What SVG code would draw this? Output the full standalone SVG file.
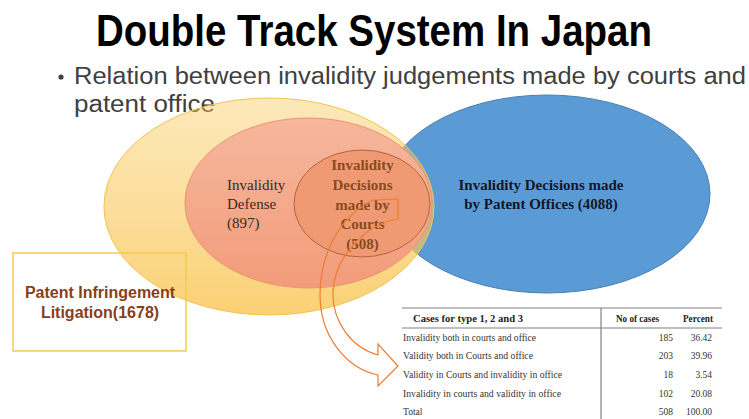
<svg xmlns="http://www.w3.org/2000/svg" width="749" height="419" viewBox="0 0 749 419">
  <defs>
    <linearGradient id="gradLitigation" x1="0" y1="0" x2="0" y2="1">
      <stop offset="0" stop-color="#F9C85A" stop-opacity="0.42"/>
      <stop offset="0.55" stop-color="#F9C85A" stop-opacity="0.62"/>
      <stop offset="1" stop-color="#F9C85A" stop-opacity="0.85"/>
    </linearGradient>
    <linearGradient id="gradDefense" x1="0" y1="0" x2="0" y2="1">
      <stop offset="0" stop-color="#F6B79D"/>
      <stop offset="1" stop-color="#F29C7A"/>
    </linearGradient>
    <style>
      .title { font-family: "Liberation Sans", Arial, sans-serif; font-weight: bold; font-size: 44px; fill: #000; }
      .sub { font-family: "Liberation Sans", Arial, sans-serif; font-size: 23px; fill: #404040; }
      .serif { font-family: "Liberation Serif", "Times New Roman", serif; font-size: 15px; }
      .serif-b { font-family: "Liberation Serif", "Times New Roman", serif; font-size: 15px; font-weight: bold; }
      .box-label { font-family: "Liberation Sans", Arial, sans-serif; font-size: 16px; font-weight: bold; fill: #86401A; }
      .tbl { font-family: "Liberation Serif", "Times New Roman", serif; font-size: 9.5px; fill: #333; }
      .tbl-b { font-family: "Liberation Serif", "Times New Roman", serif; font-size: 9.5px; font-weight: bold; fill: #222; }
      .rule { stroke: #808080; stroke-width: 1.2; fill: none; }
    </style>
  </defs>

  <rect width="749" height="419" fill="#FFFFFF"/>

  <!-- heading -->
  <g id="heading">
    <text class="title" x="96" y="46" textLength="556" lengthAdjust="spacingAndGlyphs">Double Track System In Japan</text>
    <circle cx="61" cy="77" r="2.6" fill="#404040"/>
    <text class="sub" x="74" y="84" textLength="672" lengthAdjust="spacingAndGlyphs">Relation between invalidity judgements made by courts and</text>
    <text class="sub" x="74" y="112" textLength="141" lengthAdjust="spacingAndGlyphs">patent office</text>
  </g>

  <!-- patent office decisions -->
  <g id="office-decisions">
    <ellipse cx="547" cy="194" rx="163" ry="99" fill="#5B9BD5" stroke="#4A7FB0" stroke-width="1"/>
    <text class="serif-b" fill="#14172A" text-anchor="middle" x="541" y="190">Invalidity Decisions made</text>
    <text class="serif-b" fill="#14172A" text-anchor="middle" x="541" y="209">by Patent Offices (4088)</text>
  </g>

  <!-- litigation set -->
  <g id="litigation">
    <ellipse cx="269" cy="206.5" rx="165" ry="108.5" fill="url(#gradLitigation)" stroke="#F4C350" stroke-width="1"/>
  </g>

  <!-- invalidity defense set -->
  <g id="defense">
    <ellipse cx="308.5" cy="203" rx="123.5" ry="85" fill="url(#gradDefense)" stroke="#EA946F" stroke-width="1"/>
    <text class="serif" fill="#3A2A22" x="227" y="190">Invalidity</text>
    <text class="serif" fill="#3A2A22" x="227" y="209">Defense</text>
    <text class="serif" fill="#3A2A22" x="227" y="228">(897)</text>
  </g>

  <!-- court decisions set -->
  <g id="court-decisions">
    <ellipse cx="362" cy="203.5" rx="68" ry="53.5" fill="#EF9A72" stroke="#B3653D" stroke-width="1"/>
    <g class="serif-b" fill="#8A4A22" text-anchor="middle">
      <text x="362.5" y="170">Invalidity</text>
      <text x="362.5" y="190">Decisions</text>
      <text x="362.5" y="210">made by</text>
      <text x="362.5" y="229">Courts</text>
      <text x="362.5" y="249">(508)</text>
    </g>
  </g>

  <!-- litigation label box -->
  <g id="litigation-box">
    <rect x="13" y="253" width="173" height="98" fill="none" stroke="#F6CB50" stroke-width="1.5"/>
    <text class="box-label" text-anchor="middle" x="100" y="298">Patent Infringement</text>
    <text class="box-label" text-anchor="middle" x="100" y="318">Litigation(1678)</text>
  </g>

  <!-- connectors -->
  <g id="connectors">
    <path d="M373,200 L398,199 L398,219 C365,224 334,258 333,292 C332,322 352,348 378,355 L378,344 L398,366 L378,386 L378,375 C345,368 320,335 320,295 C320,255 338,218 373,200 Z" fill="none" stroke="#ED7D31" stroke-width="1.2" stroke-linejoin="miter"/>
  </g>

  <!-- results table -->
  <g id="results-table">
    <line class="rule" x1="402" y1="308" x2="722" y2="308"/>
    <line class="rule" x1="402" y1="328" x2="722" y2="328"/>
    <line class="rule" x1="601" y1="308" x2="601" y2="419"/>
    <text class="tbl-b" x="413" y="322" textLength="110" lengthAdjust="spacingAndGlyphs">Cases for type 1, 2 and 3</text>
    <text class="tbl-b" x="616" y="322" textLength="43" lengthAdjust="spacingAndGlyphs">No of cases</text>
    <text class="tbl-b" x="683" y="322" textLength="30" lengthAdjust="spacingAndGlyphs">Percent</text>

    <text class="tbl" x="403" y="341" textLength="133" lengthAdjust="spacingAndGlyphs">Invalidity both in courts and office</text>
    <text class="tbl" x="403" y="359" textLength="130" lengthAdjust="spacingAndGlyphs">Validity both in Courts and office</text>
    <text class="tbl" x="403" y="378" textLength="159" lengthAdjust="spacingAndGlyphs">Validity in Courts and invalidity in office</text>
    <text class="tbl" x="403" y="397" textLength="158" lengthAdjust="spacingAndGlyphs">Invalidity in courts and validity in  office</text>
    <text class="tbl" x="403" y="415">Total</text>

    <g class="tbl" text-anchor="end">
      <text x="673" y="341">185</text>
      <text x="673" y="359">203</text>
      <text x="673" y="378">18</text>
      <text x="673" y="397">102</text>
      <text x="673" y="415">508</text>
      <text x="712" y="341">36.42</text>
      <text x="712" y="359">39.96</text>
      <text x="712" y="378">3.54</text>
      <text x="712" y="397">20.08</text>
      <text x="712" y="415">100.00</text>
    </g>
  </g>
</svg>
